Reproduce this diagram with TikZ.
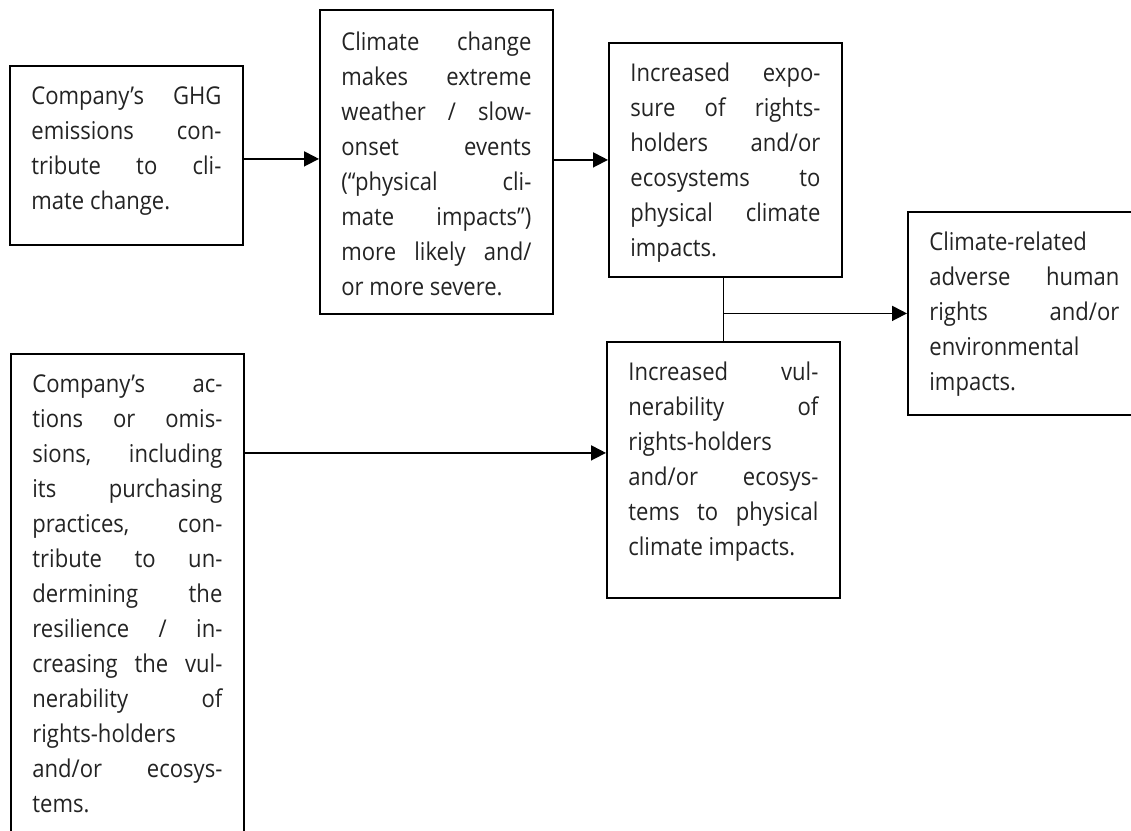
\documentclass[tikz,border=0pt]{standalone}
\usepackage{fontspec}
\setmainfont[FakeStretch=0.9]{Open Sans}
\usetikzlibrary{arrows.meta}
\definecolor{txt}{RGB}{35,35,35}
\newcommand\jl[1]{\makebox[\linewidth][s]{#1}}
\newcommand\bt[3]{\parbox[t][#1pt][t]{190pt}{\vspace*{#2pt}\fontsize{24.5}{35}\selectfont\raggedright #3}}
\tikzset{
  box/.style={draw=black, line width=1.8pt, inner xsep=21.5pt, inner ysep=0pt, anchor=north west, text=txt, minimum width=233pt},
  arr/.style={draw=black, line width=1.8pt, -{Triangle[length=15pt,width=15pt]}},
  ln/.style={draw=black, line width=1.8pt}
}
\begin{document}
\begin{tikzpicture}[x=1pt,y=-1pt]
\useasboundingbox (0,0) rectangle (1131,830);
\clip (0,0) rectangle (1131,830);
\node[box] (b1) at (9,65) {\bt{179}{14.5}{\strut\jl{Company’s GHG}\\\jl{emissions con-}\\\jl{tribute to cli-}\\mate change.\strut}};
\node[box] (b2) at (319,9) {\bt{304}{16}{\strut\jl{Climate change}\\\jl{makes extreme}\\\jl{weather / slow-}\\\jl{onset events}\\\jl{(“physical cli-}\\\jl{mate impacts”)}\\\jl{more likely and/}\\or more severe.\strut}};
\node[box] (b3) at (608,42) {\bt{234}{14.5}{\strut\jl{Increased expo-}\\\jl{sure of rights-}\\\jl{holders and/or}\\\jl{ecosystems to}\\\jl{physical climate}\\impacts.\strut}};
\node[box] (b4) at (907,211) {\bt{203}{14.5}{\strut Climate-related\\\jl{adverse human}\\\jl{rights and/or}\\environmental\\impacts.\strut}};
\node[box] (b5) at (606,341) {\bt{256}{14.5}{\strut\jl{Increased vul-}\\\jl{nerability of}\\rights-holders\\\jl{and/or ecosys-}\\\jl{tems to physical}\\climate impacts.\strut}};
\node[box] (b6) at (10,353) {\bt{500}{14.5}{\strut\jl{Company’s ac-}\\\jl{tions or omis-}\\\jl{sions, including}\\\jl{its purchasing}\\\jl{practices, con-}\\\jl{tribute to un-}\\\jl{dermining the}\\\jl{resilience / in-}\\\jl{creasing the vul-}\\\jl{nerability of}\\rights-holders\\\jl{and/or ecosys-}\\tems.\strut}};
\draw[arr] ([yshift=-3.5pt]b1.east) -- ([yshift=-3.5pt]b1.east -| b2.west);
\draw[arr] (b2.east |- b3.west) -- (b3.west);
\draw[ln] (b5.north |- b3.south) -- (b5.north);
\coordinate (j) at (b5.north |- b4.west);
\draw[arr] (j) -- (b4.west);
\coordinate (p) at ([yshift=17pt]b5.west);
\draw[arr] (b6.east |- p) -- (p);
\end{tikzpicture}
\end{document}
